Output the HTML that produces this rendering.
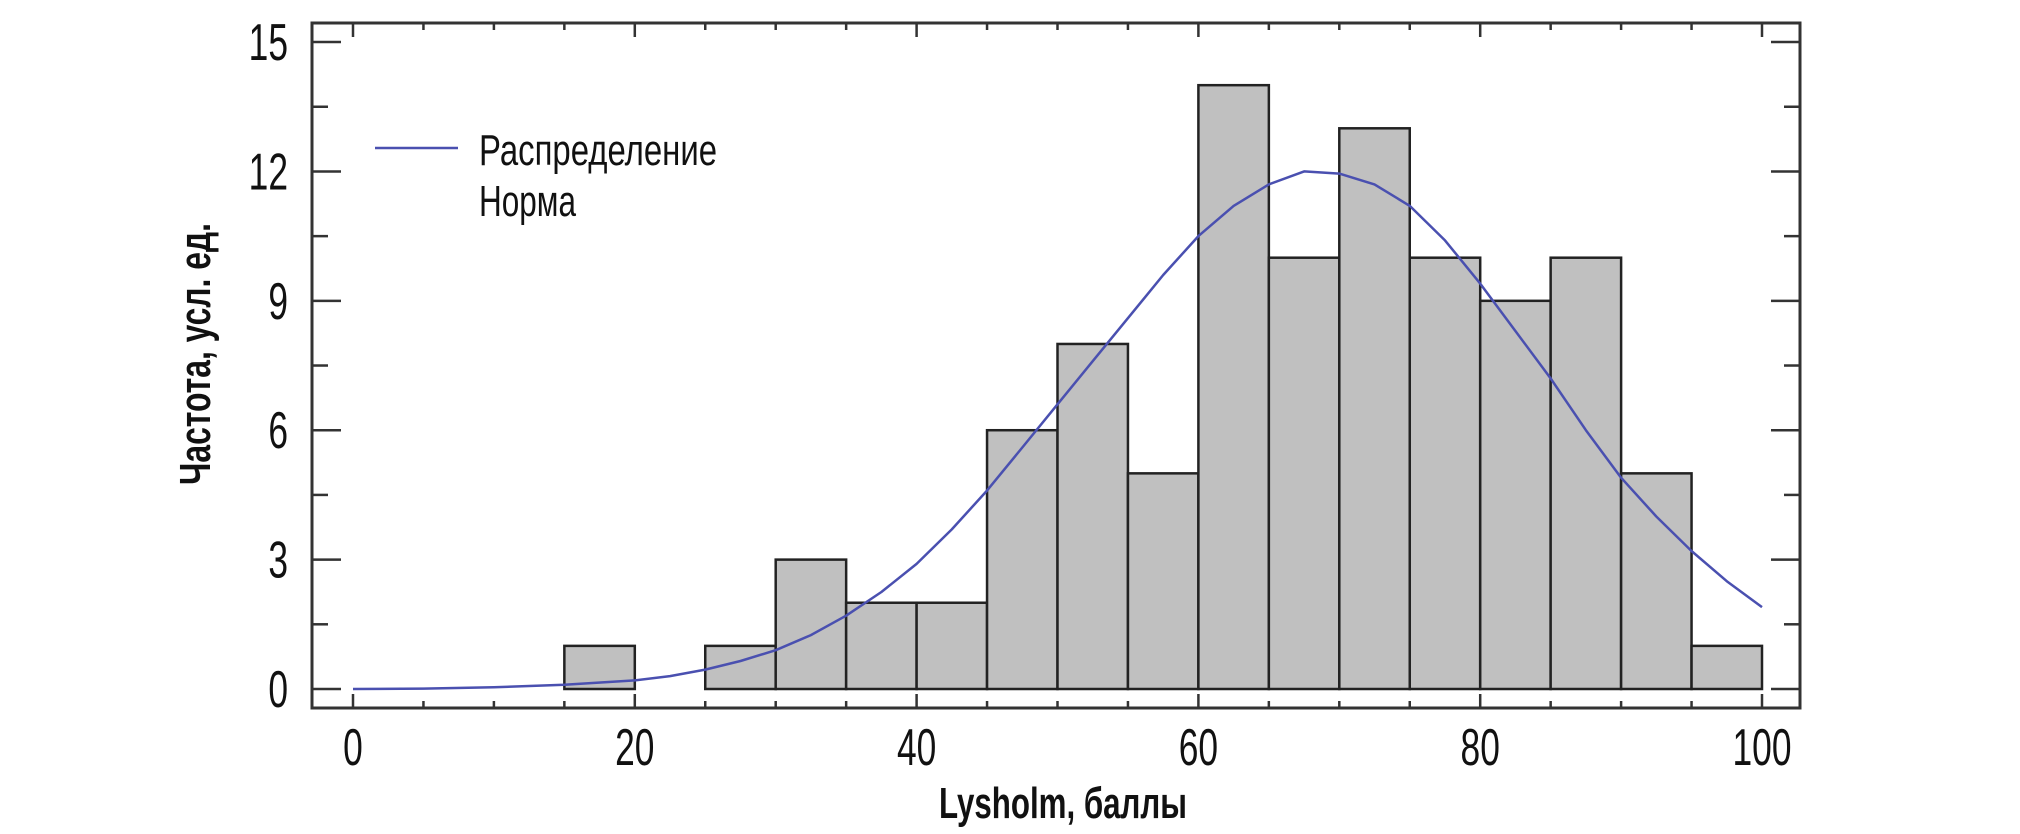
<!DOCTYPE html>
<html><head><meta charset="utf-8">
<style>
html,body{margin:0;padding:0;background:#fff;}
svg{display:block;}
text{font-family:"Liberation Sans Narrow","Liberation Sans","DejaVu Sans Condensed",sans-serif;fill:#111;}
</style></head>
<body>
<svg id="chart" width="2020" height="834" viewBox="0 0 2020 834" xmlns="http://www.w3.org/2000/svg">
<g id="bars"></g>
<g id="curve"></g>
<g id="axes"></g>
<g>
<line x1="375" y1="148" x2="458" y2="148" stroke="#4a50b0" stroke-width="2.5"/>
<text x="479" y="165" font-size="44" textLength="238" lengthAdjust="spacingAndGlyphs">Распределение</text>
<text x="479" y="216" font-size="44" textLength="97" lengthAdjust="spacingAndGlyphs">Норма</text>
</g>
<text x="1063" y="818" font-size="44" font-weight="bold" text-anchor="middle" textLength="248" lengthAdjust="spacingAndGlyphs">Lysholm, баллы</text>
<text transform="translate(210,354) rotate(-90)" x="0" y="0" font-size="44" font-weight="bold" text-anchor="middle" textLength="262" lengthAdjust="spacingAndGlyphs">Частота, усл. ед.</text>
</svg>
<script>
const binStarts = [15,25,30,35,40,45,50,55,60,65,70,75,80,85,90,95];
const binCounts = [1,1,3,2,2,6,8,5,14,10,13,10,9,10,5,1];
const binWidth = 5;
const curveX = [0,5,10,15,20,22.5,25,27.5,30,32.5,35,37.5,40,42.5,45,47.5,50,52.5,55,57.5,60,62.5,65,67.5,70,72.5,75,77.5,80,82.5,85,87.5,90,92.5,95,97.5,100];
const curveY = [0,0.01,0.04,0.1,0.2,0.3,0.45,0.65,0.9,1.25,1.7,2.25,2.9,3.7,4.6,5.6,6.6,7.6,8.6,9.6,10.5,11.2,11.7,12,11.95,11.7,11.2,10.4,9.4,8.3,7.2,6.0,4.9,4.0,3.2,2.5,1.9];
const xTickLabels = [0,20,40,60,80,100];
const yTickLabels = [0,3,6,9,12,15];

const NS = "http://www.w3.org/2000/svg";
const X0 = 353, XS = 14.09, Y0 = 689, YS = 43.13;
const L = 312, R = 1800, T = 23, B = 708;
function sx(v){ return X0 + v*XS; }
function sy(v){ return Y0 - v*YS; }
function mk(tag, attrs, parent){ const e=document.createElementNS(NS,tag); for(const k in attrs) e.setAttribute(k,attrs[k]); parent.appendChild(e); return e; }

const bars = document.getElementById('bars');
binStarts.forEach((s,i)=>{
  const r = mk('rect',{x:sx(s),y:sy(binCounts[i]),width:sx(s+binWidth)-sx(s),height:Y0-sy(binCounts[i]),fill:'#c0c0c0',stroke:'#222','stroke-width':2.5},bars);
  
  
});

const cg = document.getElementById('curve');
const p = mk('path',{d:curveX.map((x,i)=>(i?'L':'M')+sx(x).toFixed(1)+' '+sy(curveY[i]).toFixed(1)).join(' '),fill:'none',stroke:'#4a50b0','stroke-width':2.5,'stroke-linejoin':'round'},cg);



const ax = document.getElementById('axes');
const frame = mk('rect',{x:L,y:T,width:R-L,height:B-T,fill:'none',stroke:'#333','stroke-width':3},ax);


for(let v=0; v<=100; v+=5){
  const major = v%20===0, len = major?14:7, x=sx(v);
  mk('line',{x1:x,y1:B,x2:x,y2:B-len,stroke:'#333','stroke-width':2.5},ax);
  mk('line',{x1:x,y1:T,x2:x,y2:T+len,stroke:'#333','stroke-width':2.5},ax);
}
for(let v=0; v<=15; v+=1.5){
  const major = Math.abs(v%3)<1e-6, len = major?29:16, y=sy(v);
  mk('line',{x1:L,y1:y,x2:L+len,y2:y,stroke:'#333','stroke-width':2.5},ax);
  mk('line',{x1:R,y1:y,x2:R-len,y2:y,stroke:'#333','stroke-width':2.5},ax);
}
xTickLabels.forEach(v=>{
  const t = mk('text',{transform:'translate('+sx(v)+',765) scale(0.68,1)','font-size':52,'text-anchor':'middle'},ax);
  t.textContent = v;
  
  
});
yTickLabels.forEach(v=>{
  const t = mk('text',{transform:'translate(288,'+(sy(v)+18)+') scale(0.68,1)','font-size':52,'text-anchor':'end'},ax);
  t.textContent = v;
  
  
});
</script>
</body></html>
